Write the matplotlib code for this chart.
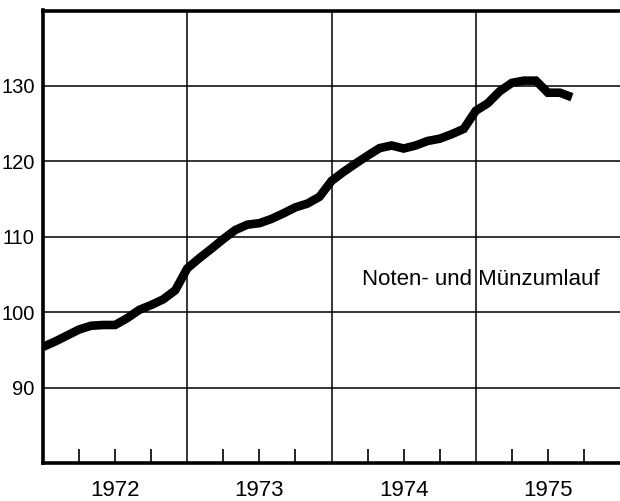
import matplotlib
matplotlib.use("Agg")
import matplotlib.pyplot as plt
import numpy as np

plt.rcParams['font.family'] = ['Liberation Sans', 'DejaVu Sans']

# Monthly values, Jan 1972 .. Sep 1975
values = [95.4, 96.1, 96.9, 97.7, 98.2, 98.3, 98.3, 99.2, 100.3, 100.95, 101.7, 102.9,
          105.8, 107.15, 108.4, 109.7, 110.9, 111.6, 111.8, 112.36, 113.1, 113.9, 114.4, 115.3,
          117.4, 118.6, 119.7, 120.75, 121.75, 122.1, 121.7, 122.1, 122.7, 123.0, 123.6, 124.3,
          126.7, 127.7, 129.3, 130.4, 130.7, 130.7, 129.1, 129.1, 128.5]
start_year = 1972
years = [1972, 1973, 1974, 1975]
year_labels = ["1972", "1973", "1974", "1975"]
y_ticks = [90, 100, 110, 120, 130]
series_label = "Noten- und Münzumlauf"

x = start_year + np.arange(len(values)) / 12.0

fig = plt.figure(figsize=(6.2, 5.01), dpi=100)
ax = fig.add_axes([43/620, 38/501, 1 - 43/620, (463-10.5)/501])

ax.plot(x, values, color='black', lw=6.2, solid_joinstyle='miter', solid_capstyle='butt', zorder=3)

ax.set_xlim(1972, 1976)
ax.set_ylim(80, 140)

# y axis
ax.set_yticks(y_ticks)
ax.set_yticklabels([str(v) for v in y_ticks])
ax.tick_params(axis='y', length=0, pad=6, labelsize=14.5)
ax.yaxis.grid(True, color='black', lw=1.1)

# x axis: quarter ticks inward, labels at mid-year
quarters = []
qlabels = []
for yr, lab in zip(years, year_labels):
    for q in (0.25, 0.5, 0.75):
        quarters.append(yr + q)
        qlabels.append(lab if q == 0.5 else "")
ax.set_xticks(quarters)
ax.set_xticklabels(qlabels)
ax.tick_params(axis='x', which='major', direction='in', length=10, width=1.2, pad=12, labelsize=16)
ax.set_xticks([1973, 1974, 1975], minor=True)
ax.tick_params(axis='x', which='minor', length=0)
ax.xaxis.grid(True, which='minor', color='black', lw=1.1)
ax.set_axisbelow(True)

for s in ('left', 'top', 'bottom'):
    ax.spines[s].set_linewidth(2.6)
ax.spines['right'].set_visible(False)

ax.text(1974.21, 104.3, series_label, ha='left', va='center', fontsize=16)

fig.savefig("out.png", dpi=100)
